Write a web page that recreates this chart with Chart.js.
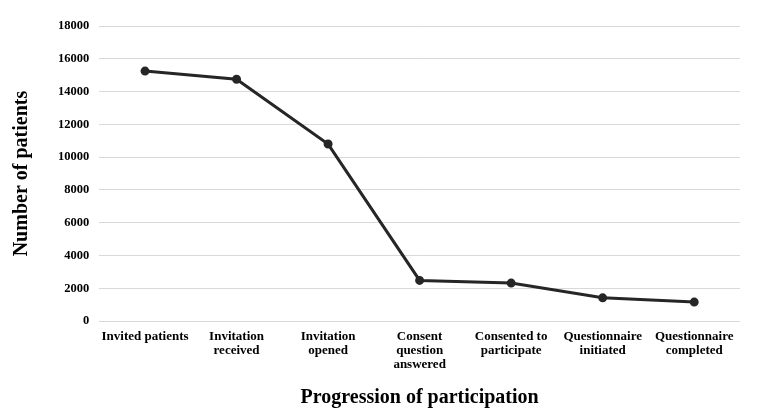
<!DOCTYPE html>
<html>
<head>
<meta charset="utf-8">
<script src="https://cdn.jsdelivr.net/npm/chart.js@4/dist/chart.umd.min.js"></script>
<style>
  html, body { margin: 0; padding: 0; background: #fff; }
  #wrap { width: 766px; height: 420px; }
</style>
</head>
<body>
<div id="wrap"><canvas id="grafico"></canvas></div>
<script>
// categorias do eixo x
var etapas = [
  ["Invited patients"],
  ["Invitation", "received"],
  ["Invitation", "opened"],
  ["Consent", "question", "answered"],
  ["Consented to", "participate"],
  ["Questionnaire", "initiated"],
  ["Questionnaire", "completed"]
]
// numero de pacientes em cada etapa
var pacientes = [15250, 14750, 10800, 2480, 2320, 1420, 1160]

var fonte = "'Liberation Serif', 'Times New Roman', serif"

const config = {
  type: 'line',
  data: {
    labels: etapas,
    datasets: [{
      data: pacientes,
      borderColor: '#262626',
      backgroundColor: '#262626',
      borderWidth: 3,
      pointRadius: 3,
      pointHoverRadius: 3,
      tension: 0,
      fill: false
    }]
  },
  options: {
    responsive: true,
    maintainAspectRatio: false,
    animation: false,
    layout: { padding: { top: 26, right: 26, left: 6, bottom: 6 } },
    plugins: { legend: { display: false }, tooltip: { enabled: false } },
    scales: {
      x: {
        offset: true,
        grid: { display: false },
        border: { display: false },
        ticks: {
          color: '#000',
          maxRotation: 0,
          autoSkip: false,
          padding: 0,
          font: { family: fonte, size: 13, weight: 'bold', lineHeight: 1.1 }
        },
        title: {
          display: true,
          text: 'Progression of participation',
          color: '#000',
          padding: { top: 14 },
          font: { family: fonte, size: 20, weight: 'bold' }
        }
      },
      y: {
        min: 0,
        max: 18000,
        grid: { color: '#d9d9d9', lineWidth: 1, drawTicks: false },
        border: { display: false },
        ticks: {
          stepSize: 2000,
          color: '#000',
          padding: 10,
          callback: function (valor) { return String(valor) },
          font: { family: fonte, size: 12.5, weight: 'bold' }
        },
        title: {
          display: true,
          text: 'Number of patients',
          color: '#000',
          padding: { bottom: 14 },
          font: { family: fonte, size: 20, weight: 'bold' }
        }
      }
    }
  }
}

let chartGeral = new Chart(document.getElementById('grafico'), config)
</script>
</body>
</html>
